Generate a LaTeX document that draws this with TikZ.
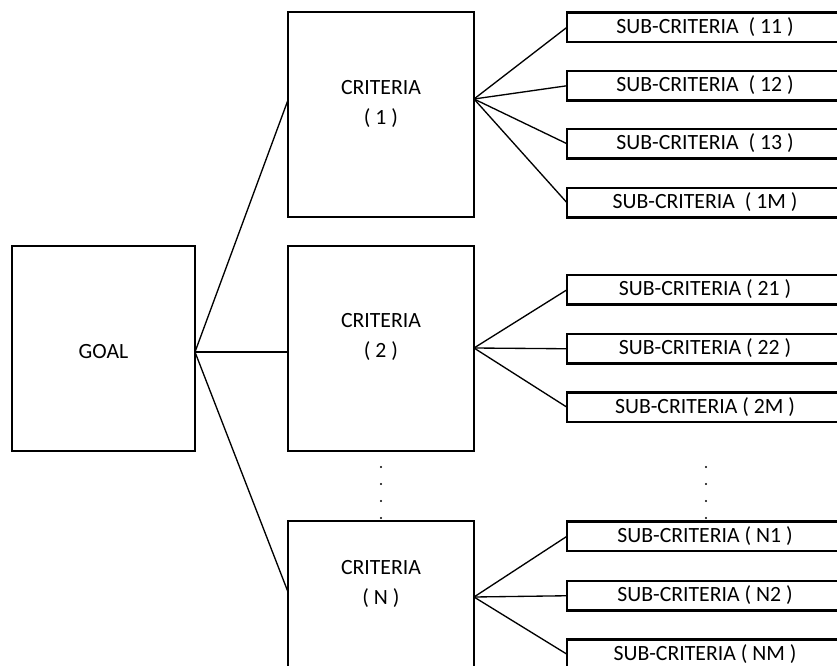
\documentclass[tikz,border=0pt]{standalone}
\usepackage{fontspec}
\setmainfont{Carlito}
\begin{document}
\begin{tikzpicture}[x=0.75pt,y=-0.75pt,
  box/.style={draw=black,line width=1.6pt,inner sep=0pt,outer sep=0pt,anchor=north west},
  bigbox/.style={box,minimum width=186*0.75pt,minimum height=205*0.75pt},
  subbox/.style={box,minimum width=276*0.75pt,minimum height=29.5*0.75pt},
  lbl/.style={font=\fontsize{16.3}{19}\selectfont,inner sep=0pt},
  conn/.style={line width=1pt},
  dotmark/.style={fill=black}]
\useasboundingbox (0,0) rectangle (837,666);
\clip (0,0) rectangle (837,666);
% main boxes
\node[box,minimum width=183*0.75pt,minimum height=205*0.75pt] (g) at (12,246) {};
\node[bigbox] (c1) at (288,12) {};
\node[bigbox] (c2) at (288,246) {};
\node[bigbox] (cn) at (288,521) {};
% sub boxes
\node[subbox] (s11) at (567,12.5) {};
\node[subbox] (s12) at (567,71) {};
\node[subbox] (s13) at (567,129) {};
\node[subbox] (s1m) at (567,188) {};
\node[subbox] (s21) at (567,275) {};
\node[subbox] (s22) at (567,334) {};
\node[subbox] (s2m) at (567,392.5) {};
\node[subbox] (sn1) at (567,521.5) {};
\node[subbox] (sn2) at (567,581) {};
\node[subbox] (snm) at (567,639.5) {};
% texts
\node[lbl] (tg) at (103.5,352) {GOAL};
\node[lbl] (tc1a) at (381,88) {CRITERIA};
\node[lbl] (tc1b) at (381,118) {( 1 )};
\node[lbl] (tc2a) at (381,321) {CRITERIA};
\node[lbl] (tc2b) at (381,351) {( 2 )};
\node[lbl] (tcna) at (381,568) {CRITERIA};
\node[lbl] (tcnb) at (381,598) {( N )};
\node[lbl] (t11) at (705,27) {SUB-CRITERIA\ \ ( 11 )};
\node[lbl] (t12) at (705,85.5) {SUB-CRITERIA\ \ ( 12 )};
\node[lbl] (t13) at (705,143.5) {SUB-CRITERIA\ \ ( 13 )};
\node[lbl] (t1m) at (705,202.5) {SUB-CRITERIA\ \ ( 1M )};
\node[lbl] (t21) at (705,289.5) {SUB-CRITERIA ( 21 )};
\node[lbl] (t22) at (705,348.5) {SUB-CRITERIA ( 22 )};
\node[lbl] (t2m) at (705,407) {SUB-CRITERIA ( 2M )};
\node[lbl] (tn1) at (705,536.5) {SUB-CRITERIA ( N1 )};
\node[lbl] (tn2) at (705,595.5) {SUB-CRITERIA ( N2 )};
\node[lbl] (tnm) at (705,654) {SUB-CRITERIA ( NM )};
% connector anchor points
\coordinate (gr) at (195,352);
\coordinate (c1l) at (288,100);
\coordinate (c2l) at (288,352);
\coordinate (cnl) at (288,592);
\coordinate (c1r) at (474,99);
\coordinate (c2r) at (474,348);
\coordinate (cnr) at (474,597);
% connectors
\draw[conn] (gr) -- (c1l);
\draw[conn] (gr) -- (c2l);
\draw[conn] (gr) -- (cnl);
\foreach \s in {s11,s12,s13,s1m} \draw[conn] (c1r) -- (\s.west);
\foreach \s in {s21,s22,s2m} \draw[conn] (c2r) -- (\s.west);
\foreach \s in {sn1,sn2,snm} \draw[conn] (cnr) -- (\s.west);
% ellipsis dots
\foreach \yy in {467,484,501,518} {
  \fill[dotmark] (381,\yy) circle (1.1);
  \fill[dotmark] (706,\yy) circle (1.1);
}
\end{tikzpicture}
\end{document}
